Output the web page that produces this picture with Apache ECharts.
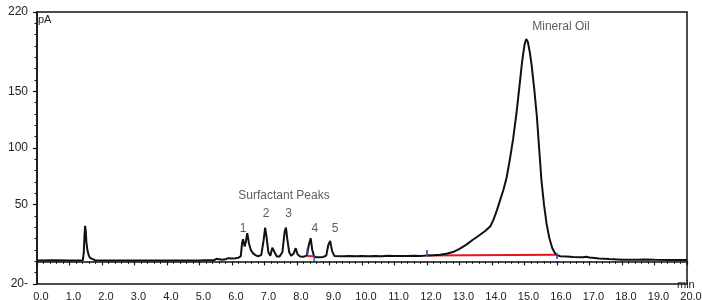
<!DOCTYPE html>
<html>
<head>
<meta charset="utf-8">
<script src="https://cdn.jsdelivr.net/npm/echarts@6/dist/echarts.min.js"></script>
<style>
  html, body { margin: 0; padding: 0; background: #fff; }
  #chart { width: 702px; height: 300px; }
</style>
</head>
<body>
<div id="chart"></div>
<script>
// retention time (min) and detector signal (pA)
const times = [
  0.0, 0.5, 1.0, 1.3, 1.41, 1.44, 1.46, 1.48, 1.5, 1.52, 1.55, 1.59, 1.63, 1.69, 1.78,
  2.0, 2.5, 3.0, 3.5, 4.0, 4.5, 5.0, 5.15, 5.2, 5.25, 5.45, 5.52, 5.58, 5.7, 5.8, 5.88, 5.93,
  6.0, 6.1, 6.2, 6.27, 6.31, 6.34, 6.39, 6.43, 6.47, 6.52, 6.58, 6.65, 6.72, 6.8, 6.9,
  6.97, 7.02, 7.06, 7.12, 7.18, 7.24, 7.27, 7.31, 7.38, 7.46, 7.55, 7.62, 7.66, 7.7, 7.76,
  7.82, 7.9, 7.96, 8.02, 8.1, 8.2, 8.3, 8.36, 8.42, 8.47, 8.53, 8.6, 8.7, 8.8, 8.9, 8.96,
  9.02, 9.08, 9.15, 9.2, 9.4, 9.6, 9.8, 10.0, 10.2, 10.4, 10.6, 10.8, 11.0, 11.2, 11.4,
  11.6, 11.8, 12.0, 12.2, 12.4, 12.6, 12.8, 13.0, 13.2, 13.4, 13.6, 13.8, 13.95, 14.05,
  14.15, 14.25, 14.35, 14.45, 14.55, 14.65, 14.75, 14.85, 14.93, 15.0, 15.05, 15.1, 15.16,
  15.22, 15.3, 15.38, 15.45, 15.52, 15.6, 15.68, 15.76, 15.85, 15.93, 16.0, 16.1, 16.3,
  16.5, 16.8, 16.9, 17.0, 17.3, 17.6, 18.0, 18.5, 18.7, 19.0, 19.5, 20.0
];
const pA = [
  0.8, 0.9, 0.8, 0.8, 1.0, 8, 22, 31.3, 27, 17, 10, 5.5, 3, 1.6, 1.0,
  0.8, 0.8, 0.7, 0.8, 0.7, 0.8, 0.8, 0.9, 1.7, 0.9, 1.0, 2.2, 1.2, 1.4, 1.8, 2.8, 2.2,
  2.6, 2.8, 3.2, 4.5, 16, 19.6, 13, 18, 24.9, 16, 10, 7, 5.5, 4.5, 5.5,
  18, 29.8, 22, 8, 5, 12, 13.7, 8, 4.2, 4.2, 8, 26, 29.8, 20, 8,
  5, 7, 11.6, 6, 4.2, 4, 5, 14, 20.4, 10, 4, 3.6, 3.6, 3.8, 5, 14,
  18.1, 9, 4.8, 4.8, 4.4, 4.7, 4.5, 4.6, 4.4, 4.8, 4.5, 4.9, 4.6, 4.8, 4.7,
  5.0, 4.8, 5.1, 5.4, 5.9, 6.7, 8.2, 11.0, 14.5, 18.8, 22.8, 27, 31, 37,
  45, 54, 63, 74, 90, 108, 130, 156, 177, 191, 196, 194, 185,
  173, 152, 128, 100, 72, 50, 33, 21, 12, 7.5, 5.5, 4.5, 4.2,
  3.8, 3.6, 4.0, 3.4, 2.6, 2.0, 1.5, 1.4, 1.7, 1.3, 1.2, 1.1
];

// integration baselines (red) and their start/stop marks (blue)
const baselineLong = [[12.0, 5.1], [16.0, 5.7]];
const baselineShort = [[8.32, 4.8], [8.55, 4.5]];
const integrationMarks = [[8.32, 8.6], [8.53, 3.0], [12.0, 7.3], [16.0, 4.6]];

// annotations
const peakLabels = ['1', '2', '3', '4', '5'];
const peakLabelTimes = [6.34, 7.05, 7.74, 8.55, 9.17];
const peakLabelLevels = [28.6, 41.9, 41.9, 28.6, 28.6];
const groupLabels = ['Surfactant Peaks', 'Mineral Oil'];
const groupLabelTimes = [7.6, 16.12];
const groupLabelLevels = [57.7, 206.6];

const yLabelValues = [-20, 50, 100, 150, 220];

const trace = times.map((t, i) => [t, pA[i]]);
const annotations = peakLabels.map((s, i) => [peakLabelTimes[i], peakLabelLevels[i], s])
  .concat(groupLabels.map((s, i) => [groupLabelTimes[i], groupLabelLevels[i], s]));

const chart = echarts.init(document.getElementById('chart'), null, { renderer: 'canvas' });

const font = 'Liberation Sans, Arial, sans-serif';
const axisColor = '#111';

chart.setOption({
  animation: false,
  backgroundColor: '#fff',
  grid: {
    left: 37, right: 15, top: 12, bottom: 16,
    outerBoundsMode: 'none',
    containLabel: false,
    show: true, borderColor: axisColor, borderWidth: 1.5, backgroundColor: 'transparent'
  },
  xAxis: {
    type: 'value',
    min: 0, max: 20, interval: 1,
    axisLine: { show: true, lineStyle: { color: axisColor, width: 1.5 } },
    axisTick: { show: true, length: 4, lineStyle: { color: axisColor, width: 1.2 } },
    minorTick: { show: true, splitNumber: 5, length: 2.5, lineStyle: { color: axisColor, width: 1 } },
    splitLine: { show: false },
    axisLabel: {
      formatter: (v) => v.toFixed(1),
      fontSize: 11, color: '#222', fontFamily: font,
      margin: 7, padding: [0, 0, 0, 8],
      showMinLabel: true, showMaxLabel: true, hideOverlap: false
    }
  },
  yAxis: [
    {
      type: 'value',
      min: -20, max: 220, interval: 10,
      axisLine: { show: true, lineStyle: { color: axisColor, width: 1.5 } },
      axisTick: { show: true, length: 2.5, lineStyle: { color: axisColor, width: 1 } },
      axisLabel: { show: false },
      splitLine: { show: false }
    },
    {
      type: 'value',
      min: -20, max: 220,
      position: 'left',
      axisLine: { show: false },
      axisTick: { show: true, length: 4, customValues: yLabelValues, lineStyle: { color: axisColor, width: 1.2 } },
      axisLabel: {
        customValues: yLabelValues,
        formatter: (v) => (v < 0 ? String(-v) + '-' : String(v)),
        fontSize: 12, color: '#222', fontFamily: font, margin: 9,
        padding: [3, 0, 0, 0]
      },
      splitLine: { show: false }
    }
  ],
  series: [
    {
      name: 'baseline long',
      type: 'line',
      data: baselineLong,
      symbol: 'none',
      lineStyle: { color: '#e8141c', width: 2 },
      z: 2
    },
    {
      name: 'baseline short',
      type: 'line',
      data: baselineShort,
      symbol: 'none',
      lineStyle: { color: '#e8141c', width: 2 },
      z: 2
    },
    {
      name: 'signal',
      type: 'line',
      data: trace,
      symbol: 'none',
      smooth: false,
      lineStyle: { color: '#111', width: 2 },
      z: 3
    },
    {
      name: 'marks',
      type: 'scatter',
      data: integrationMarks,
      symbol: 'rect',
      symbolSize: [2, 6],
      itemStyle: { color: '#3050b8' },
      z: 4
    },
    {
      name: 'labels',
      type: 'scatter',
      data: annotations,
      symbolSize: 0,
      label: {
        show: true,
        position: 'inside',
        formatter: (p) => p.value[2],
        fontSize: 12, color: '#333', fontFamily: font
      },
      z: 5
    }
  ],
  graphic: [
    { type: 'text', left: 38, top: 14, style: { text: 'pA', fontSize: 11, fill: '#222', font: '11px ' + font } },
    { type: 'text', left: 677, top: 279, style: { text: 'min', fontSize: 11, fill: '#222', font: '11px ' + font } }
  ]
});
</script>
</body>
</html>
